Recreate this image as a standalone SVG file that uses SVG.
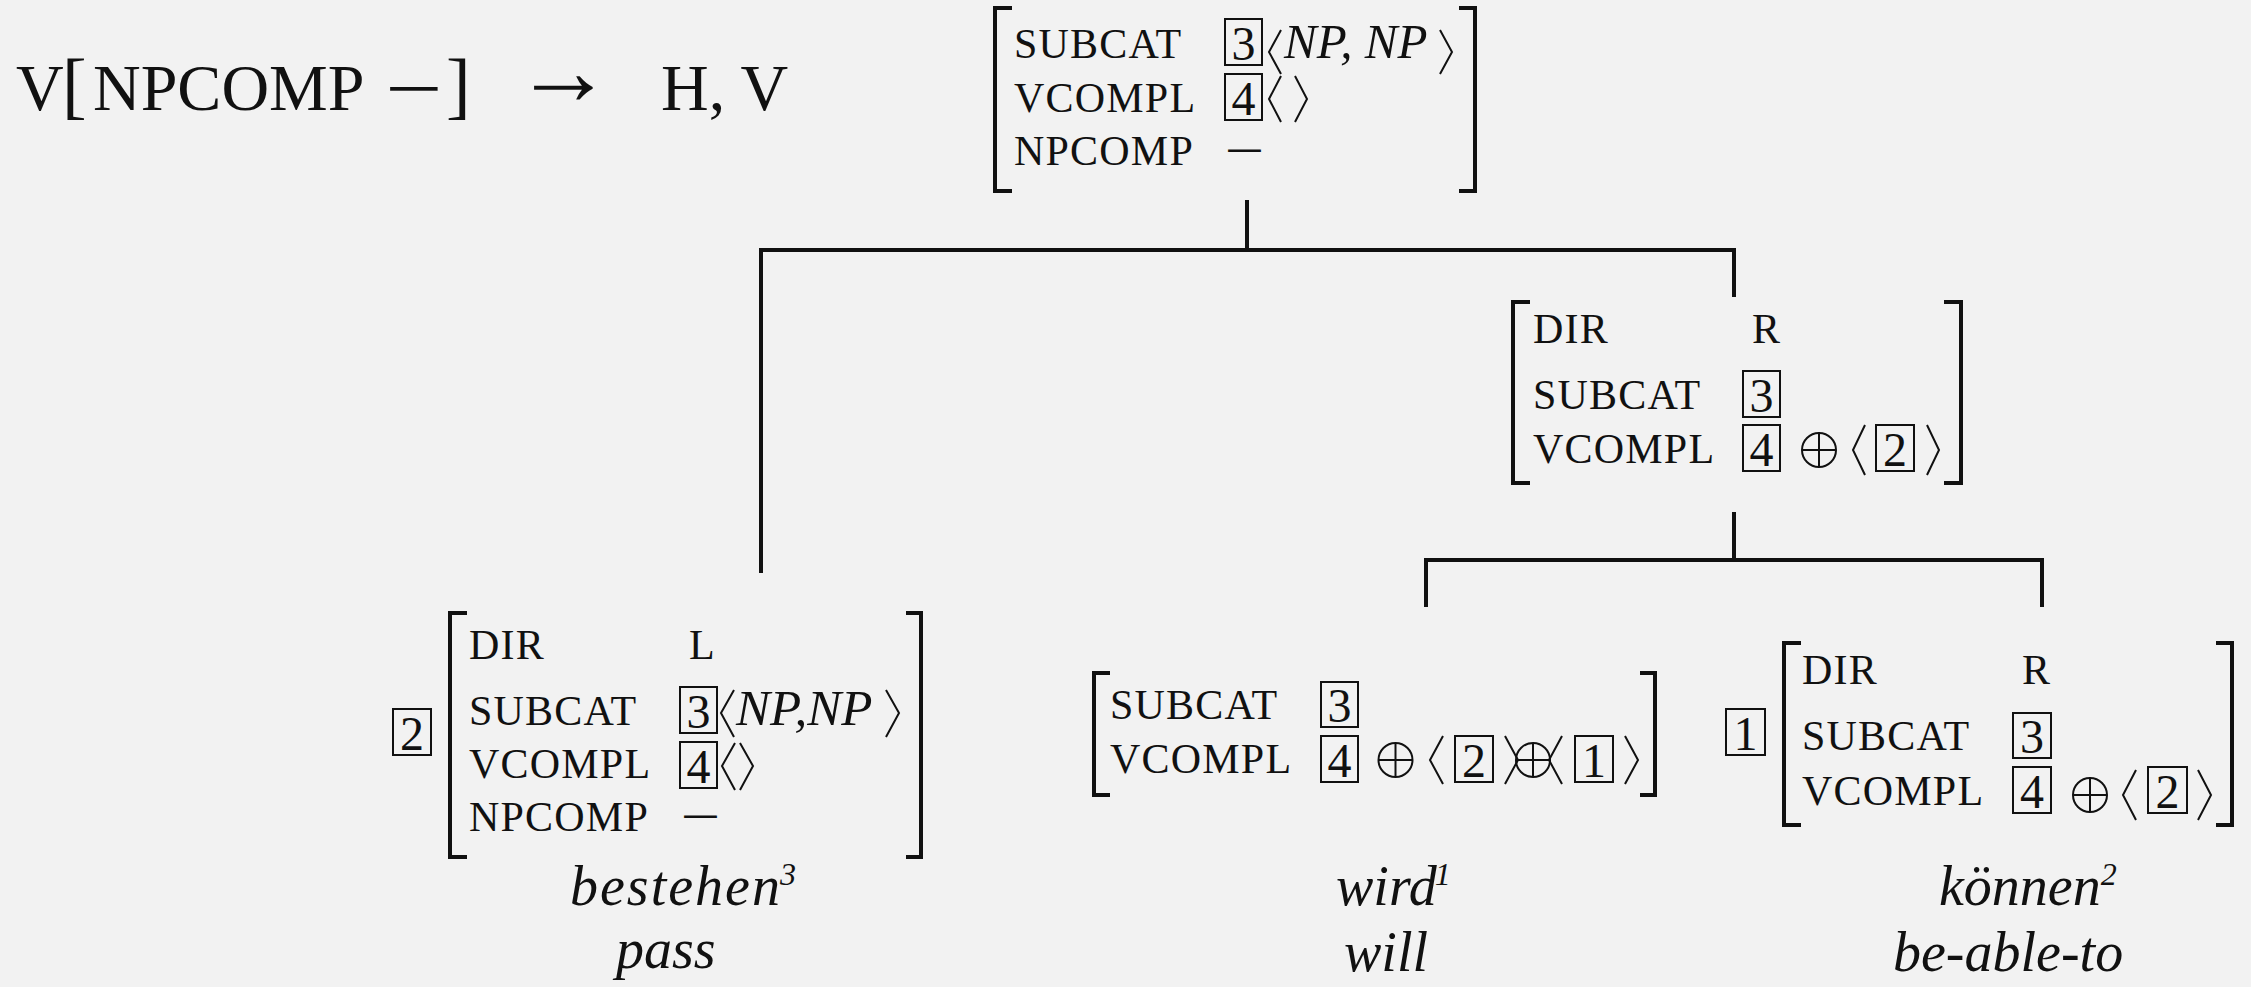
<svg xmlns="http://www.w3.org/2000/svg" width="2251" height="987" viewBox="0 0 2251 987">
<style>
text{font-family:"Liberation Serif","Times New Roman",serif;fill:#111}
.lb{font-size:42px;letter-spacing:1.2px}
.it{font-size:56px;font-style:italic}
.np{font-size:49px;font-style:italic}
.sup{font-size:32px}
.dg{font-size:48px;text-anchor:middle}
.rule{font-size:66px}
.mn{font-family:"DejaVu Sans",sans-serif;font-size:30px}
.bx{fill:none;stroke:#111;stroke-width:2}
.br{fill:none;stroke:#111;stroke-width:4}
.an{fill:none;stroke:#111;stroke-width:2}
.op{fill:none;stroke:#111;stroke-width:2}
.cn{fill:none;stroke:#111;stroke-width:4}
</style>
<rect width="2251" height="987" fill="#f2f2f2"/>

<g id="rule">
<text class="rule" y="110"><tspan x="16">V</tspan><tspan x="62" style="font-size:74px">[</tspan><tspan x="93">NPCOMP</tspan><tspan x="446" style="font-size:74px">]</tspan><tspan x="661">H, V</tspan></text>
<text class="mn" style="font-size:46px" transform="translate(390,103) scale(1.65,1)" x="-4.9">−</text>
<text x="514" y="104" style="font-size:99px">→</text>
</g>

<g id="connectors">
<path class="cn" d="M1247,200 V250 M761,573 V250 H1734 V297"/>
<path class="cn" d="M1734,512 V560 M1426,607 V560 H2042 V607"/>
</g>

<g id="node-top">
<path class="br" d="M1012,8 H995 V191 H1012"/>
<path class="br" d="M1459,8 H1475 V191 H1459"/>
<text class="lb" x="1014" y="58">SUBCAT</text>
<text class="lb" x="1014" y="112">VCOMPL</text>
<text class="lb" x="1014" y="165">NPCOMP</text>
<rect class="bx" x="1225" y="19" width="37" height="46"/>
<text class="dg" x="1243.5" y="60">3</text>
<rect class="bx" x="1225" y="74" width="37" height="46"/>
<text class="dg" x="1243.5" y="115">4</text>
<path class="an" d="M1281,30 L1269,52 L1281,74"/>
<text class="np" x="1284" y="58">NP, NP</text>
<path class="an" d="M1440,30 L1452,52 L1440,74"/>
<path class="an" d="M1281,76 L1269,99 L1281,122"/>
<path class="an" d="M1295,76 L1307,99 L1295,122"/>
<text class="mn" transform="translate(1228,160) scale(1.75,1)" x="-3.2">−</text>
</g>

<g id="node-head">
<path class="br" d="M1530,302 H1513 V483 H1530"/>
<path class="br" d="M1944,302 H1961 V483 H1944"/>
<text class="lb" x="1533" y="343">DIR</text>
<text class="lb" x="1752" y="343">R</text>
<text class="lb" x="1533" y="409">SUBCAT</text>
<text class="lb" x="1533" y="463">VCOMPL</text>
<rect class="bx" x="1743" y="371" width="37" height="46"/>
<text class="dg" x="1761.5" y="412">3</text>
<rect class="bx" x="1743" y="425" width="37" height="46"/>
<text class="dg" x="1761.5" y="466">4</text>
<circle class="op" cx="1819" cy="450" r="17"/>
<path class="op" d="M1802,450 H1836 M1819,433 V467"/>
<path class="an" d="M1865,425 L1853,450 L1865,475"/>
<rect class="bx" x="1876" y="425" width="38" height="46"/>
<text class="dg" x="1895" y="466">2</text>
<path class="an" d="M1927,425 L1939,450 L1927,475"/>
</g>

<g id="node-bestehen">
<rect class="bx" x="393" y="709" width="38" height="46"/>
<text class="dg" x="412" y="750">2</text>
<path class="br" d="M467,613 H450 V857 H467"/>
<path class="br" d="M906,613 H921 V857 H906"/>
<text class="lb" x="469" y="659">DIR</text>
<text class="lb" x="689" y="659">L</text>
<text class="lb" x="469" y="725">SUBCAT</text>
<text class="lb" x="469" y="778">VCOMPL</text>
<text class="lb" x="469" y="831">NPCOMP</text>
<rect class="bx" x="680" y="687" width="37" height="46"/>
<text class="dg" x="698.5" y="728">3</text>
<path class="an" d="M734,690 L721,713 L734,737"/>
<text class="np" x="736" y="725" style="font-size:51px">NP,NP</text>
<path class="an" d="M886,690 L899,713 L886,737"/>
<rect class="bx" x="680" y="742" width="37" height="46"/>
<text class="dg" x="698.5" y="783">4</text>
<path class="an" d="M735,743 L722,766 L735,790"/>
<path class="an" d="M740,743 L753,766 L740,790"/>
<text class="mn" transform="translate(684,826) scale(1.75,1)" x="-3.2">−</text>
<text class="it" x="570" y="905"><tspan letter-spacing="2">bestehen</tspan><tspan class="sup" dx="-2" dy="-20">3</tspan></text>
<text class="it" x="616" y="968">pass</text>
</g>

<g id="node-wird">
<path class="br" d="M1110,673 H1094 V795 H1110"/>
<path class="br" d="M1640,673 H1655 V795 H1640"/>
<text class="lb" x="1110" y="719">SUBCAT</text>
<text class="lb" x="1110" y="773">VCOMPL</text>
<rect class="bx" x="1321" y="682" width="37" height="45"/>
<text class="dg" x="1339.5" y="722">3</text>
<rect class="bx" x="1321" y="736" width="37" height="46"/>
<text class="dg" x="1339.5" y="777">4</text>
<circle class="op" cx="1395.5" cy="760" r="17"/>
<path class="op" d="M1378.5,760 H1412.5 M1395.5,743 V777"/>
<path class="an" d="M1443,736 L1430,760 L1443,784"/>
<rect class="bx" x="1455" y="736" width="38" height="46"/>
<text class="dg" x="1474" y="777">2</text>
<path class="an" d="M1505,736 L1518,760 L1505,784"/>
<circle class="op" cx="1533" cy="760" r="17"/>
<path class="op" d="M1516,760 H1550 M1533,743 V777"/>
<path class="an" d="M1562,736 L1549,760 L1562,784"/>
<rect class="bx" x="1575" y="736" width="38" height="46"/>
<text class="dg" x="1594" y="777">1</text>
<path class="an" d="M1625,736 L1638,760 L1625,784"/>
<text class="it" x="1336" y="905">wird<tspan class="sup" dx="-2" dy="-20">1</tspan></text>
<text class="it" x="1344" y="971">will</text>
</g>

<g id="node-koennen">
<rect class="bx" x="1726" y="709" width="39" height="46"/>
<text class="dg" x="1745.5" y="750">1</text>
<path class="br" d="M1801,643 H1784 V825 H1801"/>
<path class="br" d="M2216,643 H2232 V825 H2216"/>
<text class="lb" x="1802" y="684">DIR</text>
<text class="lb" x="2022" y="684">R</text>
<text class="lb" x="1802" y="750">SUBCAT</text>
<text class="lb" x="1802" y="805">VCOMPL</text>
<rect class="bx" x="2013" y="713" width="38" height="45"/>
<text class="dg" x="2032" y="753">3</text>
<rect class="bx" x="2013" y="767" width="38" height="46"/>
<text class="dg" x="2032" y="808">4</text>
<circle class="op" cx="2090" cy="795" r="17"/>
<path class="op" d="M2073,795 H2107 M2090,778 V812"/>
<path class="an" d="M2136,770 L2123,795 L2136,820"/>
<rect class="bx" x="2148" y="767" width="39" height="46"/>
<text class="dg" x="2167.5" y="808">2</text>
<path class="an" d="M2198,770 L2211,795 L2198,820"/>
<text class="it" x="1939" y="905">können<tspan class="sup" dx="0" dy="-20">2</tspan></text>
<text class="it" x="1893" y="971">be-able-to</text>
</g>
</svg>
